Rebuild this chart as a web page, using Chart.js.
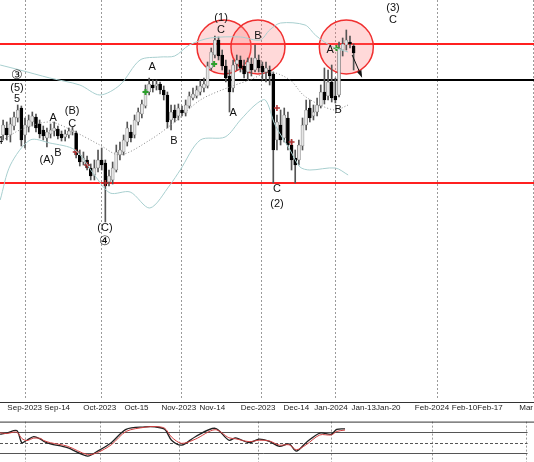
<!DOCTYPE html>
<html>
<head>
<meta charset="utf-8">
<script src="https://cdn.jsdelivr.net/npm/chart.js@4.4.1/dist/chart.umd.min.js"></script>
<style>
  html, body { margin: 0; padding: 0; background: #fff; }
  #wrap { width: 534px; height: 462px; position: relative; overflow: hidden; }
  #main { position: absolute; left: 0; top: 0; }
  #osc { position: absolute; left: 0; top: 400px; }
</style>
</head>
<body>
<div id="wrap">
  <canvas id="main" width="534" height="400"></canvas>
  <canvas id="osc" width="534" height="62"></canvas>
</div>
<script>
// niveaux (axe inversé, unité = niveau du graphique)
const candleIdx = [];
for (let i = -6; i <= 90; i++) candleIdx.push(i);
const opens  = [135,128,135,126,118,108,135,127,122,117,124,130,138,134,131,129,134,137,135,132,133,155,162,160,168,175,168,160,163,182,180,170,155,152,142,132,135,122,114,106,92,85,86,84,90,95,120,110,116,110,113,106,98,96,92,88,86,68,55,40,55,66,76,88,64,60,66,72,64,70,60,66,72,70,74,140,125,138,118,145,158,160,146,125,108,116,112,106,92,96,82,96,95,50,45,42,46];
const closes = [125,135,124,117,110,140,125,120,116,128,134,136,132,130,128,136,138,134,131,130,155,162,158,168,176,168,160,165,186,176,168,152,150,140,128,138,120,112,104,90,84,88,84,90,95,122,112,118,108,113,105,96,94,90,86,84,66,52,40,56,66,78,92,65,60,68,74,62,70,58,68,72,68,76,150,122,140,115,145,160,165,145,125,110,118,112,105,92,100,82,98,100,48,44,40,44,53];
const highs  = [120,122,118,112,105,106,118,115,112,114,120,126,128,124,122,126,131,130,128,127,131,150,152,156,164,160,150,148,160,170,162,145,142,135,122,125,115,108,100,85,78,80,80,82,86,92,105,105,104,106,100,92,88,86,80,78,62,48,36,37,50,60,70,60,55,56,60,58,58,45,55,62,62,66,72,115,110,108,112,140,150,140,118,100,100,105,98,85,68,70,65,78,42,38,30,36,44];
const lows   = [140,140,142,130,122,146,148,132,126,132,138,140,147,138,136,139,141,141,138,135,158,166,165,170,180,180,172,170,222,186,184,172,160,155,146,142,138,125,118,108,95,92,90,94,100,128,130,122,120,116,116,108,100,98,95,92,88,70,58,60,70,82,112,92,70,72,78,80,76,72,72,80,82,85,183,150,145,142,150,170,183,165,150,130,122,120,116,108,104,100,102,103,97,56,50,48,70];

const upperX = [-6.8,-1.4,6.8,15,20.5,26,31.5,37,41,45,50.7,59,64.4,67,70,76.7,79.5,82,85,88.5];
const upperY = [65,70,78,85,95,85,60,57,56,45,38,37,40,30,23,25,35,42,48,52];
const lowerX = [-6.8,-4,1.4,6.8,13.7,19,23.3,28.8,34.2,39.7,42.5,48,54.8,59,63,65.8,68.5,72.6,75.3,78,85,88.5];
const lowerY = [200,165,140,143,150,175,193,192,208,185,170,140,137,120,105,100,125,150,167,170,168,175];
const midX = [-6.8,-1.4,6.8,13.7,20.5,26,34.2,41,48,56,61.6,67,72.6,76.2,80.8,85,88.5];
const midY = [142,130,122,132,145,155,140,122,100,87,80,72,80,95,105,110,105];

const oscX   = [-6.8,-5,-2.2,-0.8,0.6,2.5,4.4,5.3,7.1,11.8,17.4,20.2,24,28.1,33.3,36.1,38.8,40.7,43.5,47.3,52.8,56.6,58.5,62.2,65,67.8,70.6,73.3,75.3,78,81.8,85,86.5,88.8];
const oscK   = [74,77.5,84.5,50,57,67,60,53.5,46.5,36,12,26,50,88,95,95,88,57,43,67,91,57,63.5,50,60,53.5,39.5,46.5,26,50,77.5,74,88,89.5];
const oscD   = [78,76,80,62,56,63,62,56,50,40,16,22,44,82,94,96,91,66,48,60,87,64,61,53,57,55,43,44,30,44,72,72,82,86];

const tickIdx = [0,9,20.8,31,42.7,52,64.7,75.3,84.9,94,100.8,112.9,121.9,129,139];
const tickLab = ['Sep-2023','Sep-14','Oct-2023','Oct-15','Nov-2023','Nov-14','Dec-2023','Dec-14','Jan-2024','Jan-13','Jan-20','Feb-2024','Feb-10','Feb-17','Mar'];
const monthIdx = [0,20.8,42.7,64.7,84.9,112.9,139];

const redLevels = [44, 183];
const blackLevel = 80;
const circles = [[54.5,47],[63.8,47],[88,47]];
const labels = [
  ['\u2462',-2.2,75],['(5)',-2.2,88],['5',-2.2,99],['4',-6.8,141],
  ['(A)',6,160],['B',9,153],['A',7.7,118],['(B)',12.9,111],['C',12.9,124],
  ['(C)',21.9,228],['\u2463',21.9,241],['A',34.8,67],['B',40.8,141],
  ['(1)',53.7,18],['C',53.7,30],['A',57,113],['B',63.8,36],
  ['C',69,189],['(2)',69,204],['(3)',100.8,8],['C',100.8,20],['A',83.6,50],['B',85.8,110]
];
const greenMarks = [[33,92],[51.8,64],[85.3,48]];
const redMarks = [[13.9,152],[17,165],[22,183],[69,108],[73,142]];

const X_MIN = -6.85, X_MAX = 139.4;
const FONT = "'Liberation Sans', Arial, sans-serif";

const upColor = candleIdx.map((_, i) => closes[i] <= opens[i]);
const bodies = candleIdx.map((x, i) => ({ x, y: [opens[i], closes[i]] }));
const wicks = candleIdx.map((x, i) => ({ x, y: [lows[i], highs[i]] }));
const pts = (xs, ys) => xs.map((x, i) => ({ x, y: ys[i] }));

const monthGrid = {
  id: 'monthGrid',
  beforeDatasetsDraw(chart) {
    const { ctx, chartArea: a, scales: { x } } = chart;
    ctx.save();
    ctx.strokeStyle = '#9a9a9a';
    ctx.setLineDash([2, 2]);
    ctx.lineWidth = 1;
    monthIdx.forEach((m) => {
      const px = Math.round(x.getPixelForValue(m)) + 0.5;
      ctx.beginPath(); ctx.moveTo(px, a.top); ctx.lineTo(px, a.bottom); ctx.stroke();
    });
    ctx.restore();
  },
};

const decor = {
  id: 'decor',
  beforeDatasetsDraw(chart) {
    const { ctx, chartArea: a, scales: { x, y } } = chart;
    ctx.save();
    ctx.lineWidth = 2;
    ctx.strokeStyle = '#ff2020';
    redLevels.forEach((l) => {
      const py = y.getPixelForValue(l);
      ctx.beginPath(); ctx.moveTo(a.left, py); ctx.lineTo(a.right, py); ctx.stroke();
    });
    ctx.strokeStyle = '#000';
    const pb = y.getPixelForValue(blackLevel);
    ctx.beginPath(); ctx.moveTo(a.left, pb); ctx.lineTo(a.right, pb); ctx.stroke();
    circles.forEach(([cx, cy]) => {
      ctx.beginPath();
      ctx.arc(x.getPixelForValue(cx), y.getPixelForValue(cy), 27, 0, Math.PI * 2);
      ctx.fillStyle = 'rgba(255,120,120,0.28)';
      ctx.fill();
      ctx.strokeStyle = '#f03030';
      ctx.lineWidth = 1.5;
      ctx.stroke();
    });
    ctx.restore();
  },
  afterDatasetsDraw(chart) {
    const { ctx, scales: { x, y } } = chart;
    ctx.save();
    ctx.fillStyle = '#111';
    ctx.textAlign = 'center';
    ctx.textBaseline = 'middle';
    labels.forEach(([t, lx, ly]) => {
      ctx.font = (t.length === 1 && t > '\u2400' ? '13px ' : '11px ') + FONT;
      ctx.fillText(t, x.getPixelForValue(lx), y.getPixelForValue(ly));
    });
    // flèche
    const x1 = x.getPixelForValue(89.6), y1 = y.getPixelForValue(55);
    const x2 = x.getPixelForValue(92), y2 = y.getPixelForValue(75);
    ctx.strokeStyle = '#111'; ctx.lineWidth = 1;
    ctx.beginPath(); ctx.moveTo(x1, y1); ctx.lineTo(x2, y2); ctx.stroke();
    const ang = Math.atan2(y2 - y1, x2 - x1);
    ctx.beginPath();
    ctx.moveTo(x2 + 3 * Math.cos(ang), y2 + 3 * Math.sin(ang));
    ctx.lineTo(x2 - 5 * Math.cos(ang - 0.5), y2 - 5 * Math.sin(ang - 0.5));
    ctx.lineTo(x2 - 5 * Math.cos(ang + 0.5), y2 - 5 * Math.sin(ang + 0.5));
    ctx.closePath(); ctx.fill();
    ctx.restore();
  },
};

new Chart(document.getElementById('main'), {
  data: {
    datasets: [
      { type: 'line', data: pts(upperX, upperY), borderColor: '#a8cfcf', borderWidth: 1, pointRadius: 0, tension: 0.3 },
      { type: 'line', data: pts(lowerX, lowerY), borderColor: '#a8cfcf', borderWidth: 1, pointRadius: 0, tension: 0.3 },
      { type: 'line', data: pts(midX, midY), borderColor: '#888', borderWidth: 1, borderDash: [1, 2], pointRadius: 0, tension: 0.3 },
      { type: 'bar', data: wicks, backgroundColor: '#555', barThickness: 1, grouped: false, order: 2 },
      { type: 'bar', data: bodies, grouped: false, barThickness: 3, order: 1,
        backgroundColor: upColor.map((u) => (u ? '#e6e6e6' : '#000')),
        borderColor: upColor.map((u) => (u ? '#666' : '#000')), borderWidth: 0.6, borderSkipped: false },
      { type: 'scatter', data: pts(greenMarks.map((m) => m[0]), greenMarks.map((m) => m[1])), pointStyle: 'cross', radius: 3, borderColor: '#2ca02c', borderWidth: 2 },
      { type: 'scatter', data: pts(redMarks.map((m) => m[0]), redMarks.map((m) => m[1])), pointStyle: 'cross', radius: 3, borderColor: '#b03030', borderWidth: 1.5 },
    ],
  },
  options: {
    responsive: false, animation: false,
    layout: { padding: 0, autoPadding: false },
    plugins: { legend: { display: false }, tooltip: { enabled: false } },
    scales: {
      x: { type: 'linear', min: X_MIN, max: X_MAX, display: false, offset: false },
      y: { min: 0, max: 400, reverse: true, display: false },
    },
  },
  plugins: [monthGrid, decor],
});

const oscLines = {
  id: 'oscLines',
  beforeDatasetsDraw(chart) {
    const { ctx, chartArea: a, scales: { y } } = chart;
    ctx.save();
    ctx.strokeStyle = '#555';
    ctx.lineWidth = 1;
    [[80, []], [50, [3, 2]], [20, []]].forEach(([v, d]) => {
      const py = Math.round(y.getPixelForValue(v)) + 0.5;
      ctx.setLineDash(d);
      ctx.beginPath(); ctx.moveTo(a.left, py); ctx.lineTo(a.right, py); ctx.stroke();
    });
    ctx.setLineDash([]);
    ctx.strokeStyle = '#333';
    ctx.beginPath(); ctx.moveTo(0, 2.5); ctx.lineTo(534, 2.5); ctx.stroke();
    ctx.beginPath(); ctx.moveTo(0, a.top + 0.5); ctx.lineTo(534, a.top + 0.5); ctx.stroke();
    ctx.restore();
  },
};

new Chart(document.getElementById('osc'), {
  type: 'line',
  data: {
    datasets: [
      { data: pts(oscX, oscD), borderColor: '#d04040', borderWidth: 1, pointRadius: 0, tension: 0.3 },
      { data: pts(oscX, oscK), borderColor: '#222', borderWidth: 1.3, pointRadius: 0, tension: 0.3 },
    ],
  },
  options: {
    responsive: false, animation: false,
    layout: { padding: { top: 2, left: 0, right: 0, bottom: 0 }, autoPadding: false },
    plugins: { legend: { display: false }, tooltip: { enabled: false } },
    scales: {
      x: {
        type: 'linear', min: X_MIN, max: X_MAX, position: 'top',
        grid: { display: false }, border: { display: false },
        afterBuildTicks: (s) => { s.ticks = tickIdx.map((v) => ({ value: v })); },
        ticks: { autoSkip: false, maxRotation: 0, padding: 1, color: '#222', font: { size: 8, family: FONT },
          callback: (v) => tickLab[tickIdx.indexOf(v)] },
      },
      y: { min: -5, max: 110, display: false },
    },
  },
  plugins: [monthGrid, oscLines],
});
</script>
</body>
</html>
